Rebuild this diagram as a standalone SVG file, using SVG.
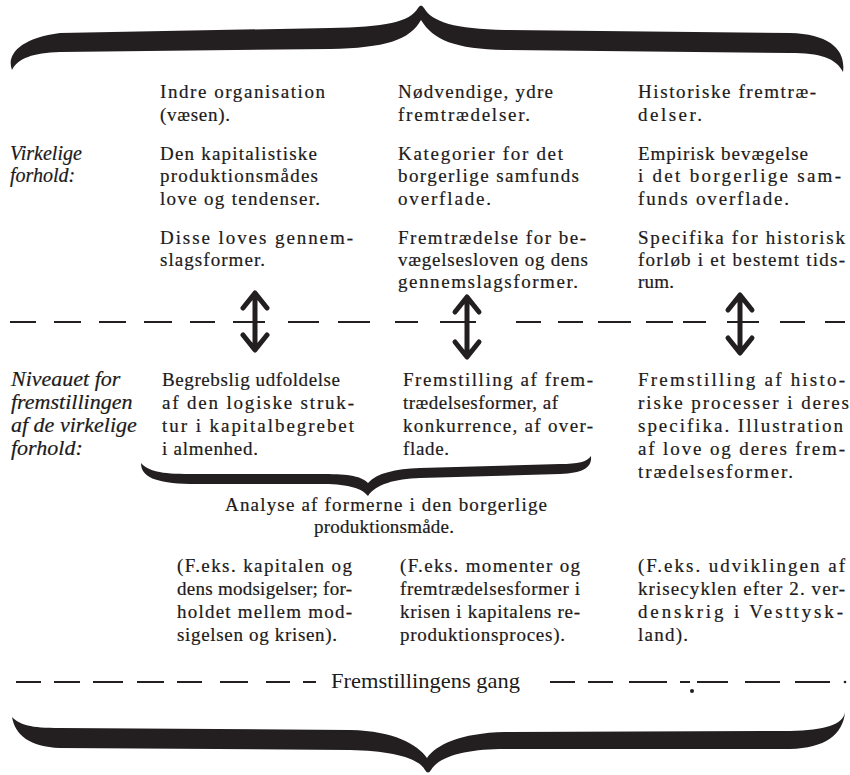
<svg xmlns="http://www.w3.org/2000/svg" width="850" height="775" viewBox="0 0 850 775">
<defs>
<style>
.t{font-family:"Liberation Serif","Times New Roman",serif;font-size:19px;fill:#1c1a1a;stroke:#1c1a1a;stroke-width:0.2}
.i{font-family:"Liberation Serif","Times New Roman",serif;font-style:italic;font-size:20px;fill:#1c1a1a;stroke:#1c1a1a;stroke-width:0.2}
.i2{font-family:"Liberation Serif","Times New Roman",serif;font-style:italic;font-size:22px;fill:#1c1a1a;stroke:#1c1a1a;stroke-width:0.2}
.g{font-family:"Liberation Serif","Times New Roman",serif;font-size:21px;fill:#1c1a1a}
.brace{fill:#231f20;stroke:none}
.dash{fill:none;stroke:#231f20;stroke-width:2.2}
.arr{fill:none;stroke:#231f20;stroke-width:5;stroke-linecap:round;stroke-linejoin:round}
</style>
</defs>
<rect width="850" height="775" fill="#ffffff"/>

<g id="brace-top">
<path class="brace" d="M12,70 C6,55 20,38 60,33 L330,28 C385,27 410,22 418,8 Q421,3 424,8 C432,22 455,29 505,30 L790,33 C830,34 846,50 843,72 C836,58 820,53 790,53 L505,50 C455,49 433,40 421,20 C410,40 385,48 330,49 L60,52 C33,53 18,58 12,70 Z"/>
</g>

<g id="label-virkelige">
<text class="i" x="10" y="160">Virkelige</text>
<text class="i" x="10" y="182">forhold:</text>
</g>

<g id="col1-top">
<text class="t" x="160" y="98" textLength="165" lengthAdjust="spacing">Indre organisation</text>
<text class="t" x="160" y="121" textLength="70" lengthAdjust="spacing">(væsen).</text>
<text class="t" x="160" y="160" textLength="157" lengthAdjust="spacing">Den kapitalistiske</text>
<text class="t" x="160" y="182" textLength="158" lengthAdjust="spacing">produktionsmådes</text>
<text class="t" x="160" y="205" textLength="160" lengthAdjust="spacing">love og tendenser.</text>
<text class="t" x="160" y="244" textLength="193" lengthAdjust="spacing">Disse loves gennem-</text>
<text class="t" x="160" y="266" textLength="105" lengthAdjust="spacing">slagsformer.</text>
</g>

<g id="col2-top">
<text class="t" x="398" y="98" textLength="155" lengthAdjust="spacing">Nødvendige, ydre</text>
<text class="t" x="398" y="121" textLength="132" lengthAdjust="spacing">fremtrædelser.</text>
<text class="t" x="398" y="160" textLength="165" lengthAdjust="spacing">Kategorier for det</text>
<text class="t" x="398" y="182" textLength="181" lengthAdjust="spacing">borgerlige samfunds</text>
<text class="t" x="398" y="205" textLength="93" lengthAdjust="spacing">overflade.</text>
<text class="t" x="398" y="244" textLength="188" lengthAdjust="spacing">Fremtrædelse for be-</text>
<text class="t" x="398" y="266" textLength="190" lengthAdjust="spacing">vægelsesloven og dens</text>
<text class="t" x="398" y="288" textLength="180" lengthAdjust="spacing">gennemslagsformer.</text>
</g>

<g id="col3-top">
<text class="t" x="638" y="98" textLength="178" lengthAdjust="spacing">Historiske fremtræ-</text>
<text class="t" x="638" y="121" textLength="64" lengthAdjust="spacing">delser.</text>
<text class="t" x="638" y="160" textLength="170" lengthAdjust="spacing">Empirisk bevægelse</text>
<text class="t" x="638" y="182" textLength="203" lengthAdjust="spacing">i det borgerlige sam-</text>
<text class="t" x="638" y="205" textLength="151" lengthAdjust="spacing">funds overflade.</text>
<text class="t" x="638" y="244" textLength="207" lengthAdjust="spacing">Specifika for historisk</text>
<text class="t" x="638" y="266" textLength="207" lengthAdjust="spacing">forløb i et bestemt tids-</text>
<text class="t" x="638" y="288" textLength="36" lengthAdjust="spacing">rum.</text>
</g>

<g id="connectors">
<path class="dash" d="M10,322 H36 M54,322 H81 M99,322 H126 M144,322 H172 M190,322 H215 M233,322 H265 M288,322 H319 M338,322 H370 M395,322 H418 M440,322 H476 M516,322 H541 M558,322 H583 M598,322 H631 M646,322 H673 M683,322 H706 M727,322 H759 M780,322 H805 M825,322 H845"/>
<path class="arr" d="M255,296 V347 M243,308 L255,293 L267,308 M243,335 L255,350 L267,335"/>
<path class="arr" d="M467,300 V355 M455,312 L467,297 L479,312 M455,342 L467,357 L479,342"/>
<path class="arr" d="M740,298 V350 M728,310 L740,295 L752,310 M728,338 L740,353 L752,338"/>
<path class="dash" d="M16,682 H41 M54,682 H80 M93,682 H123 M137,682 H164 M177,682 H202 M220,682 H248 M266,682 H290 M303,682 H316 M550,682 H575 M588,682 H613 M629,682 H667 M680,682 H690 M697,682 H728 M745,682 H780 M795,682 H830"/>
<circle cx="692" cy="691" r="2" fill="#231f20"/>
<circle cx="845" cy="682" r="1.3" fill="#231f20"/>
</g>

<g id="label-niveauet">
<text class="i2" x="11" y="386">Niveauet for</text>
<text class="i2" x="11" y="409">fremstillingen</text>
<text class="i2" x="11" y="432">af de virkelige</text>
<text class="i2" x="11" y="455">forhold:</text>
</g>

<g id="col1-mid">
<text class="t" x="162" y="386" textLength="178" lengthAdjust="spacing">Begrebslig udfoldelse</text>
<text class="t" x="162" y="409" textLength="192" lengthAdjust="spacing">af den logiske struk-</text>
<text class="t" x="162" y="432" textLength="192" lengthAdjust="spacing">tur i kapitalbegrebet</text>
<text class="t" x="162" y="455" textLength="96" lengthAdjust="spacing">i almenhed.</text>
</g>

<g id="col2-mid">
<text class="t" x="403" y="386" textLength="190" lengthAdjust="spacing">Fremstilling af frem-</text>
<text class="t" x="403" y="409" textLength="155" lengthAdjust="spacing">trædelsesformer, af</text>
<text class="t" x="403" y="432" textLength="190" lengthAdjust="spacing">konkurrence, af over-</text>
<text class="t" x="403" y="455" textLength="46" lengthAdjust="spacing">flade.</text>
</g>

<g id="col3-mid">
<text class="t" x="638" y="386" textLength="207" lengthAdjust="spacing">Fremstilling af histo-</text>
<text class="t" x="638" y="409" textLength="211" lengthAdjust="spacing">riske processer i deres</text>
<text class="t" x="638" y="432" textLength="205" lengthAdjust="spacing">specifika. Illustration</text>
<text class="t" x="638" y="455" textLength="207" lengthAdjust="spacing">af love og deres frem-</text>
<text class="t" x="638" y="478" textLength="155" lengthAdjust="spacing">trædelsesformer.</text>
</g>

<g id="brace-mid">
<path class="brace" d="M141,463 C141,477 155,483 190,484 L320,484 C345,484 361,487 368,496 C376,484 395,479 420,478 L560,474 C583,473 592,468 591,456 C587,462 578,464 560,464 L420,468 C395,469 377,473 368,483 C360,475 345,474 320,474 L190,474 C160,474 148,471 141,463 Z"/>
</g>

<g id="analyse">
<text class="t" x="386" y="511" text-anchor="middle" textLength="322" lengthAdjust="spacing">Analyse af formerne i den borgerlige</text>
<text class="t" x="384" y="533" text-anchor="middle" textLength="140" lengthAdjust="spacing">produktionsmåde.</text>
</g>

<g id="col1-ex">
<text class="t" x="177" y="572" textLength="175" lengthAdjust="spacing">(F.eks. kapitalen og</text>
<text class="t" x="177" y="595" textLength="175" lengthAdjust="spacing">dens modsigelser; for-</text>
<text class="t" x="177" y="618" textLength="175" lengthAdjust="spacing">holdet mellem mod-</text>
<text class="t" x="177" y="641" textLength="160" lengthAdjust="spacing">sigelsen og krisen).</text>
</g>

<g id="col2-ex">
<text class="t" x="400" y="572" textLength="180" lengthAdjust="spacing">(F.eks. momenter og</text>
<text class="t" x="400" y="595" textLength="180" lengthAdjust="spacing">fremtrædelsesformer i</text>
<text class="t" x="400" y="618" textLength="180" lengthAdjust="spacing">krisen i kapitalens re-</text>
<text class="t" x="400" y="641" textLength="165" lengthAdjust="spacing">produktionsproces).</text>
</g>

<g id="col3-ex">
<text class="t" x="638" y="572" textLength="207" lengthAdjust="spacing">(F.eks. udviklingen af</text>
<text class="t" x="638" y="595" textLength="207" lengthAdjust="spacing">krisecyklen efter 2. ver-</text>
<text class="t" x="638" y="618" textLength="205" lengthAdjust="spacing">denskrig i Vesttysk-</text>
<text class="t" x="638" y="641" textLength="50" lengthAdjust="spacing">land).</text>
</g>

<g id="label-gang">
<text class="g" x="331" y="688" textLength="189" lengthAdjust="spacingAndGlyphs">Fremstillingens gang</text>
</g>

<g id="brace-bottom">
<path class="brace" d="M12,717 C20,725 30,728 60,728 L350,730 C395,731 418,745 427,758 C436,745 460,733 505,732 L790,731 C825,730 843,725 845,712 C843,735 825,748 790,749 L505,749 C470,749 440,755 431,770 Q428,775 425,770 C418,757 390,751 350,750 L60,748 C30,747 15,735 12,717 Z"/>
</g>
</svg>
